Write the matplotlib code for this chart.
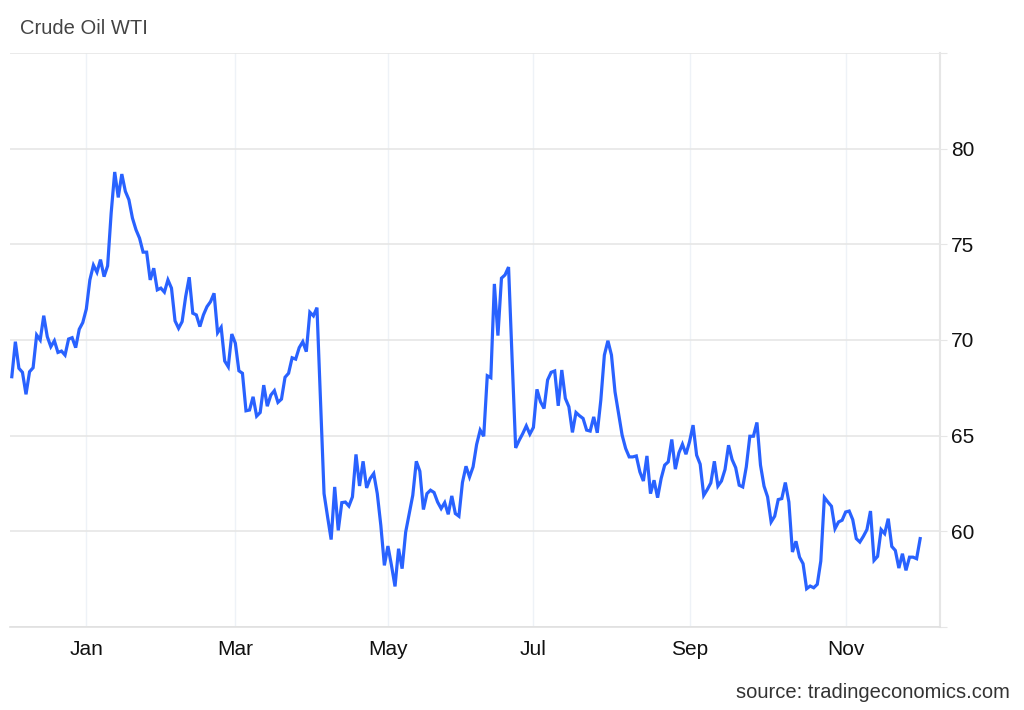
import numpy as np
import pandas as pd
import matplotlib
matplotlib.use("Agg")
import matplotlib.pyplot as plt

plt.rcParams['font.family'] = ['Liberation Sans', 'DejaVu Sans']

# WTI crude daily closes (Dec 2024 - Dec 2025)
prices = [
    # Dec 2024 - mid Feb 2025
    68.08, 69.91, 68.52, 68.31, 67.16, 68.34, 68.55, 70.26, 70.00, 71.27,
    70.17, 69.65, 69.96, 69.35, 69.42, 69.21, 70.05, 70.12, 69.60, 70.56,
    70.91, 71.62, 73.14, 73.91, 73.54, 74.20, 73.31, 73.87, 76.63, 78.78,
    77.45, 78.67, 77.77, 77.33, 76.37, 75.76, 75.32, 74.59, 74.59, 73.14,
    73.75, 72.62, 72.71, 72.50, 73.14, 72.71, 71.00, 70.61, 70.96, 72.27,
    73.28,
    # mid Feb - late Apr
    71.40, 71.31, 70.70, 71.31, 71.74, 72.00, 72.44, 70.38, 70.66, 68.90,
    68.60, 70.31, 69.83, 68.39, 68.26, 66.30, 66.34, 67.03, 66.02, 66.21,
    67.64, 66.54, 67.12, 67.35, 66.74, 66.91, 68.05, 68.26, 69.07, 69.00,
    69.60, 69.91, 69.39, 71.45, 71.26, 71.69, 66.90, 61.97, 60.75, 59.57,
    62.32, 60.05, 61.50, 61.53, 61.32, 61.80, 64.02, 62.37, 63.66, 62.27,
    62.76, 63.02,
    # late Apr - late Jul
    61.97, 60.31, 58.22, 59.23, 58.22, 57.12, 59.09, 58.05, 59.96, 60.93,
    61.88, 63.66, 63.14, 61.14, 61.97, 62.15, 62.03, 61.53, 61.19, 61.50,
    60.89, 61.85, 60.93, 60.79, 62.55, 63.40, 62.84, 63.37, 64.54, 65.29,
    64.97, 68.13, 68.03, 72.93, 70.23, 73.23, 73.40, 73.81, 69.00, 64.36,
    64.76, 65.11, 65.51, 65.08, 65.43, 67.42, 66.77, 66.42, 67.91, 68.31,
    68.38, 66.56, 68.43,
    # late Jul - early Oct
    66.95, 66.51, 65.17, 66.21, 66.04, 65.90, 65.29, 65.24, 65.98, 65.15,
    66.86, 69.21, 69.96, 69.21, 67.29, 66.16, 65.03, 64.33, 63.89, 63.89,
    63.94, 63.11, 62.63, 63.94, 61.97, 62.67, 61.76, 62.76, 63.46, 63.63,
    64.80, 63.25, 64.10, 64.55, 64.03, 64.68, 65.55, 63.98, 63.51, 61.88,
    62.18, 62.53, 63.66, 62.37, 62.63, 63.23, 64.50, 63.75, 63.33, 62.41,
    62.32,
    # early Oct - Dec
    63.37, 64.97, 64.97, 65.69, 63.46, 62.36, 61.80, 60.49, 60.79, 61.66,
    61.71, 62.55, 61.53, 58.92, 59.48, 58.65, 58.31, 57.00, 57.14, 57.05,
    57.23, 58.45, 61.77, 61.53, 61.31, 60.14, 60.49, 60.58, 61.01, 61.06,
    60.61, 59.62, 59.44, 59.74, 60.09, 61.06, 58.48, 58.69, 60.09, 59.88,
    60.66, 59.21, 59.00, 58.08, 58.83, 57.96, 58.65, 58.65, 58.57, 59.62,
]

holidays = ['2024-12-25', '2025-01-01', '2025-05-26', '2025-06-19',
            '2025-09-01', '2025-11-27']
dates = pd.bdate_range('2024-12-02', periods=len(prices), freq='C',
                       holidays=holidays)

tick_months = [1, 3, 5, 7, 9, 11]
tick_labels = ['Jan', 'Mar', 'May', 'Jul', 'Sep', 'Nov']
y_ticks = [60, 65, 70, 75, 80]

x = np.arange(len(prices))
month_pos = [int(np.argmax((dates.year == 2025) & (dates.month == m)))
             for m in tick_months]

fig = plt.figure(figsize=(10.24, 7.10), dpi=100)
ax = fig.add_axes([0.0098, 0.1169, 0.9082, 0.8085])

ax.plot(x, prices, color='#2962ff', linewidth=2.3, solid_joinstyle='miter')

ax.set_xlim(-0.5, 261.6)
ax.set_ylim(55, 85)

# grid
ax.set_yticks([55] + y_ticks + [85])
ax.set_yticklabels([''] + [str(v) for v in y_ticks] + [''])
ax.yaxis.tick_right()
ax.grid(axis='y', color='#e6e6e6', linewidth=1.2)
for p in month_pos:
    ax.axvline(p, color='#eef2f7', linewidth=1.0, zorder=0)
ax.set_xticks(month_pos)
ax.set_xticklabels(tick_labels)

for side in ['top', 'left']:
    ax.spines[side].set_visible(False)
ax.spines['right'].set_color('#e6e6e6')
ax.spines['right'].set_linewidth(1.5)
ax.spines['bottom'].set_color('#e0e0e0')
ax.spines['bottom'].set_linewidth(1.2)

ax.tick_params(axis='y', length=5, color='#e6e6e6', pad=3,
               labelsize=15, labelcolor='#111111')
ax.tick_params(axis='x', length=0, pad=9, labelsize=15,
               labelcolor='#111111')

fig.text(20 / 1024, 1 - 28 / 710, 'Crude Oil WTI', fontsize=14.5,
         color='#444444', va='center', ha='left')
fig.text(1010 / 1024, 1 - 693 / 710, 'source: tradingeconomics.com',
         fontsize=14.5, color='#333333', va='center', ha='right')

fig.savefig('out.png', dpi=100)
